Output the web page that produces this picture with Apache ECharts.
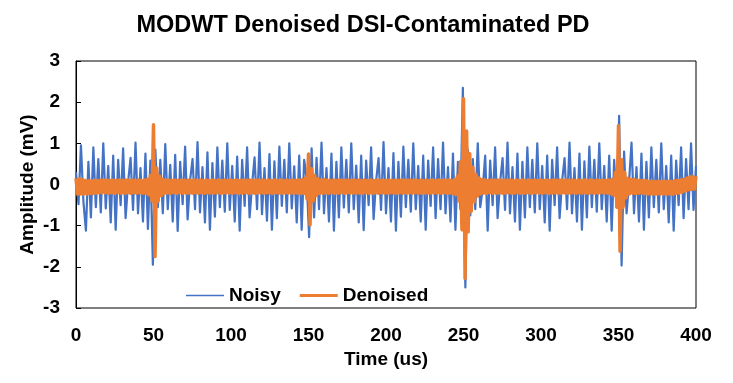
<!DOCTYPE html>
<html><head><meta charset="utf-8">
<script src="https://cdn.jsdelivr.net/npm/echarts@6/dist/echarts.min.js"></script>
<style>html,body{margin:0;padding:0;background:#fff}#c{width:733px;height:383px}</style>
</head><body><div id="c"></div>
<script>
const titleText = 'MODWT Denoised DSI-Contaminated PD';
const xAxisName = 'Time (us)';
const yAxisName = 'Amplitude (mV)';
const seriesNames = ['Noisy', 'Denoised'];
const xTickLabels = [0, 50, 100, 150, 200, 250, 300, 350, 400];
const yTickLabels = [-3, -2, -1, 0, 1, 2, 3];

// Noisy signal: sampled every 1.6 us from 0 us
const noisyStart = 0, noisyStep = 1.6;
const noisyValues = [
0.30,-0.48,0.95,-0.42,
-1.12,0.55,-0.80,0.90,-0.55,0.62,-0.68,1.00,-0.58,0.45,-0.92,0.70,
-1.10,0.60,-0.50,0.88,-0.82,0.05,0.65,-0.62,1.02,-0.70,0.40,-0.90,0.75,
-1.08,0.58,-1.95,0.85,-0.55,0.60,-0.70,0.98,-0.60,0.48,-0.90,0.72,
-1.13,0.55,-0.48,0.92,-0.85,0.10,0.62,-0.60,1.03,-0.68,0.42,-0.92,0.78,
-1.10,0.52,-0.78,0.90,-0.55,0.58,-0.66,1.00,-0.62,0.45,-0.90,0.68,
-1.12,0.60,-0.52,0.90,-0.80,0.00,0.66,-0.60,1.02,-0.72,0.40,-0.88,0.74,
-1.10,0.56,-0.82,0.92,-0.52,0.60,-0.68,1.00,-0.58,0.44,-0.92,0.70,
-1.10,0.60,0.15,-1.28,0.88,-0.80,0.65,-0.60,1.02,-0.70,0.40,-0.90,0.75,
-1.12,0.55,-0.80,0.90,-0.56,0.60,-0.68,1.00,-0.60,0.46,-0.92,0.70,
-1.11,0.58,-0.50,0.90,-0.84,0.08,0.64,-0.62,1.03,-0.70,0.40,-0.90,0.76,
-1.12,0.55,-0.78,0.92,-0.55,0.60,-0.66,1.00,-0.60,0.45,-0.90,0.70,
-1.10,0.58,-0.52,0.90,-0.82,0.62,-0.60,1.02,-0.70,0.42,-0.90,0.75,
-1.10,0.55,-0.60,2.35,-2.50,0.85,-0.75,0.62,-0.60,1.00,-0.55,-0.10,0.70,
-1.12,0.58,-0.50,0.90,-0.82,0.05,0.64,-0.62,1.02,-0.70,0.42,-0.90,0.75,
-1.10,0.55,-0.80,0.90,-0.55,0.60,-0.68,1.00,-0.60,0.45,-0.92,0.70,
-1.12,0.60,-0.50,0.90,-0.82,0.08,0.64,-0.60,1.02,-0.70,0.40,-0.90,0.75,
-1.10,0.56,-0.80,0.92,-0.55,0.60,-0.66,1.00,-0.60,0.45,-0.90,0.70,
-1.12,0.60,-0.55,1.67,-1.97,0.80,-0.70,0.05,1.02,-0.70,0.42,-0.90,0.75,
-1.10,0.55,-0.80,0.90,-0.55,0.60,-0.68,1.00,-0.60,0.45,-0.92,0.70,
-1.12,0.58,-0.50,0.90,-0.82,0.62,-0.60,1.00,-0.62,0.45
];

// Denoised signal: sampled every 1 us from 0 us
const denoisedStart = 0, denoisedStep = 1;
const denoisedValues = [
0.15,-0.23,0.14,-0.23,0.12,-0.23,0.10,-0.23,0.09,-0.22,0.09,-0.22,0.10,-0.21,0.10,-0.20,0.11,-0.20,0.11,-0.20,
0.11,-0.21,0.10,-0.20,0.11,-0.21,0.10,-0.20,0.11,-0.21,0.10,-0.21,0.11,-0.20,0.10,-0.21,0.11,-0.20,0.10,-0.21,
0.11,-0.20,0.10,-0.21,0.11,-0.22,0.13,-0.25,0.22,-0.40,1.45,-1.75,0.40,-0.40,0.20,-0.27,0.13,-0.22,0.11,-0.21,
0.11,-0.21,0.10,-0.20,0.11,-0.21,0.10,-0.20,0.11,-0.21,0.10,-0.21,0.11,-0.20,0.10,-0.21,0.11,-0.20,0.10,-0.21,
0.11,-0.20,0.10,-0.21,0.11,-0.21,0.10,-0.20,0.11,-0.21,0.10,-0.20,0.11,-0.21,0.10,-0.21,0.11,-0.20,0.10,-0.21,
0.11,-0.21,0.10,-0.20,0.11,-0.21,0.10,-0.21,0.11,-0.20,0.10,-0.21,0.11,-0.20,0.10,-0.21,0.11,-0.21,0.10,-0.20,
0.11,-0.21,0.10,-0.20,0.11,-0.21,0.10,-0.21,0.11,-0.20,0.10,-0.21,0.11,-0.21,0.10,-0.20,0.11,-0.21,0.10,-0.21,
0.11,-0.20,0.10,-0.21,0.11,-0.21,0.12,-0.22,0.15,-0.35,0.74,-0.98,0.38,-0.40,0.22,-0.27,0.14,-0.22,0.11,-0.21,
0.12,-0.21,0.11,-0.21,0.10,-0.20,0.11,-0.21,0.10,-0.21,0.11,-0.20,0.10,-0.21,0.11,-0.20,0.10,-0.21,0.11,-0.21,
0.10,-0.20,0.11,-0.21,0.10,-0.21,0.11,-0.20,0.10,-0.21,0.11,-0.21,0.10,-0.20,0.11,-0.21,0.10,-0.20,0.11,-0.21,
0.10,-0.21,0.11,-0.20,0.10,-0.21,0.11,-0.21,0.10,-0.20,0.11,-0.21,0.10,-0.21,0.11,-0.20,0.10,-0.21,0.11,-0.20,
0.10,-0.21,0.11,-0.21,0.10,-0.20,0.11,-0.21,0.10,-0.21,0.11,-0.20,0.10,-0.21,0.11,-0.21,0.10,-0.20,0.11,-0.21,
0.11,-0.21,0.10,-0.21,0.12,-0.24,0.20,-0.40,0.55,-1.10,2.08,-2.28,1.30,-1.15,0.75,-0.65,0.42,-0.42,0.24,-0.28,
0.16,-0.23,0.12,-0.21,0.11,-0.21,0.10,-0.20,0.11,-0.21,0.10,-0.21,0.11,-0.20,0.10,-0.21,0.11,-0.21,0.10,-0.20,
0.11,-0.21,0.10,-0.21,0.11,-0.20,0.10,-0.21,0.11,-0.21,0.10,-0.20,0.11,-0.21,0.10,-0.21,0.11,-0.20,0.10,-0.21,
0.11,-0.21,0.10,-0.20,0.11,-0.21,0.10,-0.21,0.11,-0.20,0.10,-0.21,0.11,-0.21,0.10,-0.20,0.11,-0.21,0.10,-0.21,
0.11,-0.20,0.10,-0.21,0.11,-0.21,0.10,-0.20,0.11,-0.21,0.10,-0.21,0.11,-0.20,0.10,-0.21,0.11,-0.21,0.10,-0.20,
0.11,-0.20,0.10,-0.21,0.11,-0.22,0.13,-0.26,0.30,-0.55,1.43,-1.62,0.60,-0.55,0.30,-0.32,0.15,-0.23,0.12,-0.21,
0.13,-0.22,0.11,-0.21,0.10,-0.21,0.10,-0.22,0.09,-0.23,0.08,-0.23,0.08,-0.23,0.08,-0.23,0.08,-0.23,0.08,-0.23,
0.08,-0.23,0.08,-0.23,0.08,-0.23,0.09,-0.22,0.10,-0.21,0.11,-0.19,0.13,-0.16,0.16,-0.13,0.18,-0.12,0.19,-0.11,
0.20
];

const FONT = "'Liberation Sans', Arial, sans-serif";
const noisyData = noisyValues.map((v, i) => [noisyStart + i * noisyStep, v]);
const denoisedData = denoisedValues.map((v, i) => [denoisedStart + i * denoisedStep, v]);

const chart = echarts.init(document.getElementById('c'), null, {renderer: 'canvas'});
chart.setOption({
  animation: false,
  backgroundColor: '#fff',
  title: {
    text: titleText, left: 358, textAlign: 'center', top: 9,
    textStyle: {fontFamily: FONT, fontSize: 23.5, fontWeight: 'bold', color: '#000'}
  },
  legend: {
    data: [
      {name: seriesNames[0], icon: 'path://M0 0H38V1.5H0Z'},
      {name: seriesNames[1], icon: 'path://M0 0H38V3H0Z'}
    ],
    left: 181, top: 281, itemWidth: 38, itemHeight: 14, itemGap: 19,
    textStyle: {fontFamily: FONT, fontSize: 19, fontWeight: 'bold', color: '#000'}
  },
  grid: {left: 76, right: 37, top: 61, bottom: 75, show: true, borderColor: '#000', borderWidth: 1},
  xAxis: {
    type: 'value', min: xTickLabels[0], max: xTickLabels[xTickLabels.length - 1], interval: 50,
    name: xAxisName, nameLocation: 'middle', nameGap: 42, nameMoveOverlap: false,
    nameTextStyle: {fontFamily: FONT, fontSize: 19, fontWeight: 'bold', color: '#000'},
    axisLine: {lineStyle: {color: '#000', width: 1}},
    axisTick: {show: false},
    splitLine: {show: false},
    axisLabel: {margin: 18, fontFamily: FONT, fontSize: 19, fontWeight: 'bold', color: '#000'}
  },
  yAxis: {
    type: 'value', min: yTickLabels[0], max: yTickLabels[yTickLabels.length - 1], interval: 1,
    name: yAxisName, nameLocation: 'middle', nameGap: 39, nameMoveOverlap: false,
    nameTextStyle: {fontFamily: FONT, fontSize: 19, fontWeight: 'bold', color: '#000'},
    axisLine: {show: true, lineStyle: {color: '#000', width: 1}},
    axisTick: {show: true, inside: true, length: 5, lineStyle: {color: '#000'}},
    splitLine: {show: false},
    axisLabel: {margin: 16, fontFamily: FONT, fontSize: 19, fontWeight: 'bold', color: '#000'}
  },
  series: [
    {
      name: seriesNames[0], type: 'line', data: noisyData, symbol: 'none',
      lineStyle: {color: '#4472C4', width: 2.2, join: 'round'}, itemStyle: {color: '#4472C4'}
    },
    {
      name: seriesNames[1], type: 'line', data: denoisedData, symbol: 'none',
      lineStyle: {color: '#ED7D31', width: 3.5, join: 'round'}, itemStyle: {color: '#ED7D31'}
    }
  ]
});
</script>
</body></html>
